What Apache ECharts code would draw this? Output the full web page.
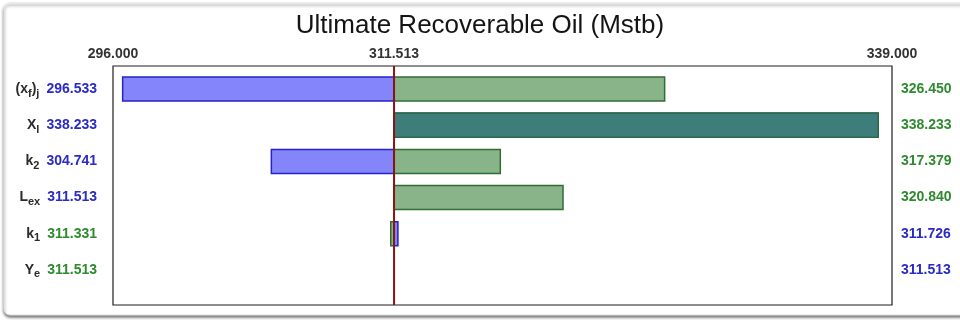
<!DOCTYPE html>
<html>
<head>
<meta charset="utf-8">
<title>Ultimate Recoverable Oil (Mstb)</title>
<script src="https://cdn.jsdelivr.net/npm/echarts@6/dist/echarts.min.js"></script>
<style>
  html, body { margin: 0; padding: 0; background: #ffffff; }
  #chart { width: 960px; height: 320px; }
</style>
</head>
<body>
<div id="chart"></div>
<script>
// Tornado chart: sensitivity of ultimate recoverable oil to each input parameter.
const titleText = 'Ultimate Recoverable Oil (Mstb)';

// Parameter names as rich-text (main symbol + subscript pieces)
const paramNames = [
  '{n|(x}{s|f}{n|)}{s|j}',
  '{n|X}{s|l}',
  '{n|k}{s|2}',
  '{n|L}{s|ex}',
  '{n|k}{s|1}',
  '{n|Y}{s|e}'
];

const baseValue = 311.513;
// Result for the low setting of each parameter (blue)
const lowCase  = [296.533, 338.233, 304.741, 311.513, 311.726, 311.513];
// Result for the high setting of each parameter (green)
const highCase = [326.450, 338.233, 317.379, 320.840, 311.331, 311.513];
// Which case is listed in the left-hand column
const leftCase = ['low', 'low', 'low', 'low', 'high', 'high'];

const axisMin = 296.000;
const axisMax = 339.000;
const axisTickValues = [296.000, 311.513, 339.000];

const BLUE_FILL = '#8585fb', BLUE_EDGE = '#2323c8', BLUE_TEXT = '#2a2ac4';
const GREEN_FILL = '#89b389', GREEN_EDGE = '#2f6e35', GREEN_TEXT = '#2f8a2f';
const BOTH_FILL = '#3e7e7a', BOTH_EDGE = '#2d6a4c';
const FONT = 'Liberation Sans, Arial, sans-serif';

const idx = paramNames.map((_, i) => i);

function barRenderer(getVal, fill, edge) {
  return function (params, api) {
    const i = api.value(0);
    const v = getVal(i);
    if (v == null || Math.abs(v - baseValue) < 1e-9) return null;
    const a = api.coord([Math.min(v, baseValue), i]);
    const b = api.coord([Math.max(v, baseValue), i]);
    const h = api.size([0, 1])[1] * 0.665;
    return {
      type: 'rect',
      shape: { x: a[0], y: a[1] - h / 2, width: b[0] - a[0], height: h },
      style: { fill: fill, stroke: edge, lineWidth: 1.5 }
    };
  };
}

// Segment where both cases fall on the same side of the base value
function overlapVal(i) {
  const lo = lowCase[i] - baseValue, hi = highCase[i] - baseValue;
  if (lo * hi <= 0) return null;
  return lo > 0 ? baseValue + Math.min(lo, hi) : baseValue + Math.max(lo, hi);
}

const leftValue = idx.map(i => leftCase[i] === 'low' ? lowCase[i] : highCase[i]);
const rightValue = idx.map(i => leftCase[i] === 'low' ? highCase[i] : lowCase[i]);
const leftColor = idx.map(i => leftCase[i] === 'low' ? 'b' : 'g');
const rightColor = idx.map(i => leftCase[i] === 'low' ? 'g' : 'b');

const chart = echarts.init(document.getElementById('chart'));

chart.setOption({
  animation: false,
  backgroundColor: '#ffffff',
  graphic: [{
    type: 'rect',
    z: -10,
    shape: { x: 4, y: 3, width: 962, height: 312, r: 6 },
    style: {
      fill: '#ffffff', stroke: '#e8e8e8', lineWidth: 1,
      shadowBlur: 3, shadowOffsetY: 2, shadowColor: 'rgba(0,0,0,0.55)'
    }
  }],
  title: {
    text: titleText,
    left: 'center',
    top: 8,
    textStyle: { fontFamily: FONT, fontSize: 26, fontWeight: 'normal', color: '#141414' }
  },
  grid: [
    { // plot frame
      left: 113, right: 68, top: 66, bottom: 15,
      show: true, borderColor: '#1e1e1e', borderWidth: 1.2, backgroundColor: '#ffffff'
    },
    { // bar rows
      left: 113, right: 68, top: 71, height: 217
    }
  ],
  xAxis: [
    {
      gridIndex: 0, type: 'value', position: 'top',
      min: axisMin, max: axisMax,
      axisLine: { show: false }, axisTick: { show: false }, splitLine: { show: false },
      axisLabel: {
        customValues: axisTickValues,
        formatter: v => v.toFixed(3),
        margin: 5,
        fontFamily: FONT, fontSize: 14, fontWeight: 'bold', color: '#333333'
      }
    },
    {
      gridIndex: 1, type: 'value', min: axisMin, max: axisMax, show: false
    }
  ],
  yAxis: [
    { gridIndex: 0, type: 'value', min: 0, max: 1, show: false },
    {
      gridIndex: 1, type: 'category', data: idx, inverse: true, position: 'left',
      axisLine: { show: false }, axisTick: { show: false }, splitLine: { show: false },
      axisLabel: {
        margin: 16,
        formatter: (v, i) => paramNames[i] + '{sp| }{' + leftColor[i] + '|' + leftValue[i].toFixed(3) + '}',
        rich: {
          n: { fontFamily: FONT, fontSize: 14, fontWeight: 'bold', color: '#2a2a2a', lineHeight: 20, verticalAlign: 'middle' },
          s: { fontFamily: FONT, fontSize: 11, fontWeight: 'bold', color: '#2a2a2a', lineHeight: 14, verticalAlign: 'bottom' },
          sp: { fontSize: 14, width: 7, lineHeight: 20 },
          b: { fontFamily: FONT, fontSize: 14, fontWeight: 'bold', color: BLUE_TEXT, lineHeight: 20 },
          g: { fontFamily: FONT, fontSize: 14, fontWeight: 'bold', color: GREEN_TEXT, lineHeight: 20 }
        }
      }
    },
    {
      gridIndex: 1, type: 'category', data: idx, inverse: true, position: 'right',
      axisLine: { show: false }, axisTick: { show: false }, splitLine: { show: false },
      axisLabel: {
        margin: 9,
        formatter: (v, i) => '{' + rightColor[i] + '|' + rightValue[i].toFixed(3) + '}',
        rich: {
          b: { fontFamily: FONT, fontSize: 14, fontWeight: 'bold', color: BLUE_TEXT },
          g: { fontFamily: FONT, fontSize: 14, fontWeight: 'bold', color: GREEN_TEXT }
        }
      }
    }
  ],
  series: [
    {
      name: 'low', type: 'custom', xAxisIndex: 1, yAxisIndex: 1,
      renderItem: barRenderer(i => lowCase[i], BLUE_FILL, BLUE_EDGE),
      data: idx.map(i => [i])
    },
    {
      name: 'high', type: 'custom', xAxisIndex: 1, yAxisIndex: 1,
      renderItem: barRenderer(i => highCase[i], GREEN_FILL, GREEN_EDGE),
      data: idx.map(i => [i])
    },
    {
      name: 'both', type: 'custom', xAxisIndex: 1, yAxisIndex: 1,
      renderItem: barRenderer(overlapVal, BOTH_FILL, BOTH_EDGE),
      data: idx.map(i => [i])
    },
    {
      name: 'base', type: 'line', xAxisIndex: 0, yAxisIndex: 0,
      data: [[baseValue, 0], [baseValue, 1]],
      symbol: 'none', z: 5,
      lineStyle: { color: '#8a1414', width: 2 }
    }
  ]
});
</script>
</body>
</html>
